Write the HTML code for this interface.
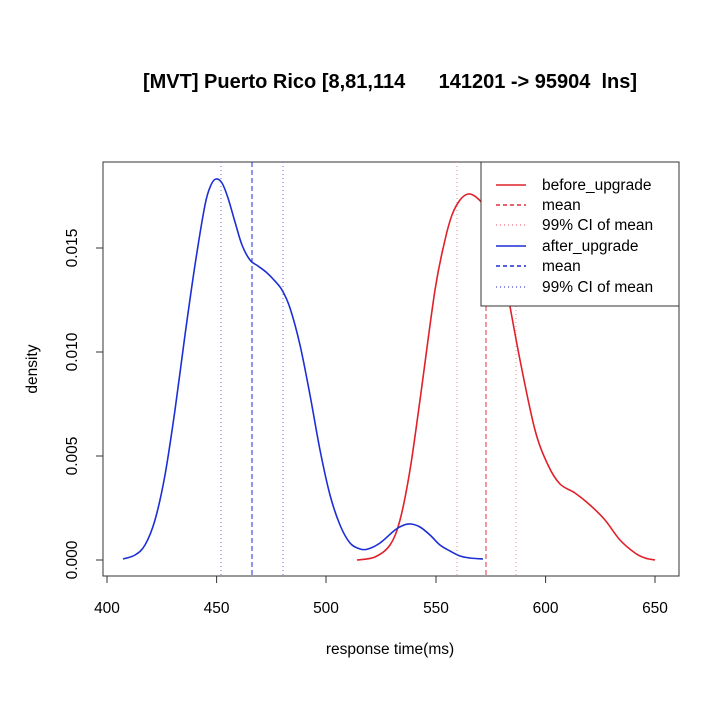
<!DOCTYPE html>
<html><head><style>body{margin:0;background:#fff}svg{display:block}text{font-family:"Liberation Sans",Arial,sans-serif;fill:#000}</style></head>
<body>
<svg width="720" height="717" viewBox="0 0 720 717">
<text x="390" y="88" font-size="20" font-weight="bold" text-anchor="middle" xml:space="preserve">[MVT] Puerto Rico [8,81,114      141201 -&gt; 95904  lns]</text>
<rect x="103" y="162" width="576" height="414" fill="none" stroke="#333" stroke-width="1"/>
<g stroke="#333" stroke-width="1">
<line x1="107" y1="576" x2="655" y2="576"/>
<line x1="107" y1="576" x2="107" y2="583"/><line x1="216.6" y1="576" x2="216.6" y2="583"/><line x1="326" y1="576" x2="326" y2="583"/><line x1="436" y1="576" x2="436" y2="583"/><line x1="545.6" y1="576" x2="545.6" y2="583"/><line x1="655" y1="576" x2="655" y2="583"/>
<line x1="103" y1="248" x2="103" y2="560"/>
<line x1="96" y1="560" x2="103" y2="560"/><line x1="96" y1="456" x2="103" y2="456"/><line x1="96" y1="352" x2="103" y2="352"/><line x1="96" y1="248" x2="103" y2="248"/>
</g>
<g font-size="15.5" text-anchor="middle">
<text x="107" y="613">400</text><text x="216.6" y="613">450</text><text x="326" y="613">500</text><text x="436" y="613">550</text><text x="545.6" y="613">600</text><text x="655" y="613">650</text>
<text transform="translate(77,560) rotate(-90)">0.000</text>
<text transform="translate(77,456) rotate(-90)">0.005</text>
<text transform="translate(77,352) rotate(-90)">0.010</text>
<text transform="translate(77,248) rotate(-90)">0.015</text>
<text x="390" y="654">response time(ms)</text>
<text transform="translate(37,369) rotate(-90)">density</text>
</g>
<g stroke-width="1">
<line x1="221" y1="162" x2="221" y2="576" stroke="#6a6ad8" stroke-dasharray="1,3"/>
<line x1="252" y1="162" x2="252" y2="576" stroke="#1c2fd6" stroke-dasharray="5,3"/>
<line x1="283" y1="162" x2="283" y2="576" stroke="#6a6ad8" stroke-dasharray="1,3"/>
<line x1="457" y1="162" x2="457" y2="576" stroke="#f08a9a" stroke-dasharray="1,3"/>
<line x1="486" y1="162" x2="486" y2="576" stroke="#e0303a" stroke-dasharray="5,3"/>
<line x1="516" y1="162" x2="516" y2="576" stroke="#f08a9a" stroke-dasharray="1,3"/>
</g>
<polyline class="crv" fill="none" stroke="#e0202a" stroke-width="1.6" stroke-linejoin="round" points="357,560 375,557 390,545 400,520 410,470 420,400 435,290 445,240 452,215 460,200 468,194 476,197 485,208 495,235 505,280 520,360 535,430 548,465 560,484 575,493 590,505 605,520 620,540 635,553 645,558 655,560"/>
<polyline class="crv" fill="none" stroke="#1c2fd6" stroke-width="1.6" stroke-linejoin="round" points="123,559 135,555 145,545 155,520 165,475 175,410 185,335 195,265 205,205 211,185 216,179 222,183 228,198 235,222 242,245 250,260 258,266 266,272 274,280 282,290 290,308 300,345 310,395 320,450 330,495 340,525 350,543 360,549 368,549 380,543 395,530 404,525 411,524 420,527 430,535 440,545 450,551 460,556 470,558 483,559"/>
<rect x="481" y="162" width="198" height="144" fill="#fff" stroke="#333" stroke-width="1"/>
<g stroke-width="1.5">
<line x1="496" y1="185" x2="526" y2="185" stroke="#e0202a"/>
<line x1="496" y1="205" x2="526" y2="205" stroke="#e0303a" stroke-dasharray="4,3"/>
<line x1="496" y1="225" x2="526" y2="225" stroke="#f08a9a" stroke-dasharray="1,3"/>
<line x1="496" y1="246" x2="526" y2="246" stroke="#1c2fd6"/>
<line x1="496" y1="266" x2="526" y2="266" stroke="#1c2fd6" stroke-dasharray="4,3"/>
<line x1="496" y1="287" x2="526" y2="287" stroke="#6a6ad8" stroke-dasharray="1,3"/>
</g>
<g font-size="15.5" xml:space="preserve">
<text x="542" y="190">before_upgrade</text>
<text x="542" y="210">mean</text>
<text x="542" y="230">99% CI  of mean</text>
<text x="542" y="251">after_upgrade</text>
<text x="542" y="271">mean</text>
<text x="542" y="292">99% CI  of mean</text>
</g>
</svg>
<script>
document.querySelectorAll('polyline.crv').forEach(function(pl){
 var p=pl.getAttribute('points').trim().split(/\s+/).map(function(s){return s.split(',').map(Number);});
 var d='M'+p[0][0]+','+p[0][1];
 for(var i=0;i<p.length-1;i++){
  var a=p[i-1]||p[i],b=p[i],c=p[i+1],e=p[i+2]||c;
  d+=' C'+(b[0]+(c[0]-a[0])/6)+','+(b[1]+(c[1]-a[1])/6)+' '+(c[0]-(e[0]-b[0])/6)+','+(c[1]-(e[1]-b[1])/6)+' '+c[0]+','+c[1];
 }
 var path=document.createElementNS('http://www.w3.org/2000/svg','path');
 path.setAttribute('d',d);path.setAttribute('fill','none');
 path.setAttribute('stroke',pl.getAttribute('stroke'));path.setAttribute('stroke-width','1.6');
 pl.parentNode.insertBefore(path,pl);pl.parentNode.removeChild(pl);
});
</script>
</body></html>
